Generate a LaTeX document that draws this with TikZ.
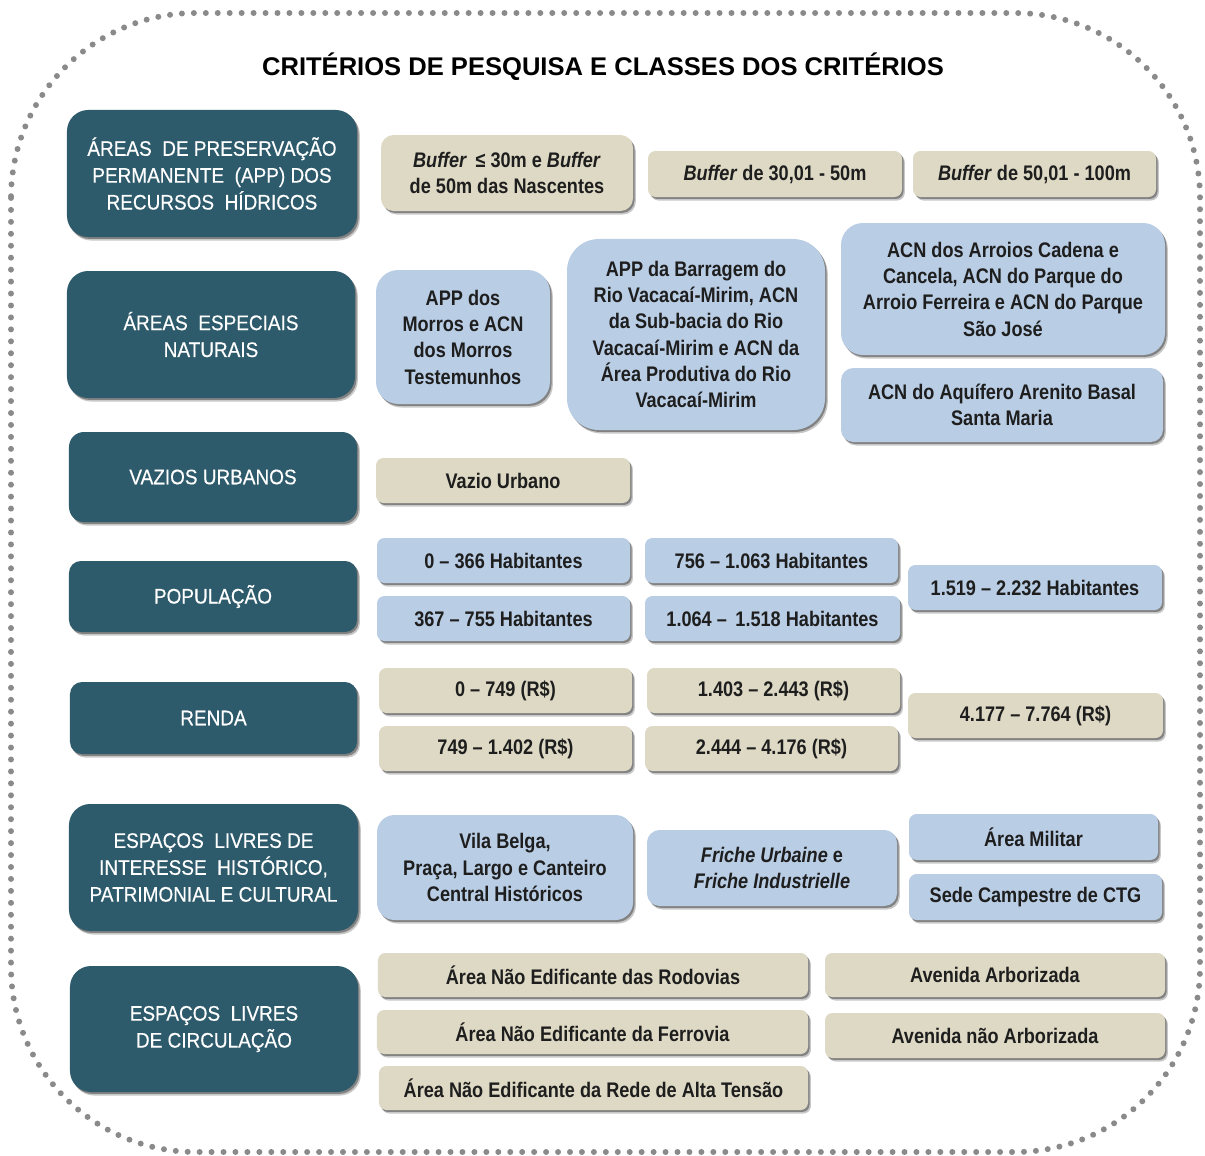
\documentclass[tikz,border=0pt]{standalone}
\usepackage{fontspec}
\setmainfont{Liberation Sans}
\newfontfamily\narrowfont[FakeStretch=0.86]{Liberation Sans}
\newfontfamily\hdrfont[FakeStretch=0.90, FakeBold=0.4]{Liberation Sans}
\usetikzlibrary{shadows}

\definecolor{hdrcol}{HTML}{2D5B6B}
\definecolor{tancol}{HTML}{DDD9C4}
\definecolor{skycol}{HTML}{B9CDE5}
\definecolor{txtcol}{HTML}{1E1E1E}
\definecolor{dotcol}{HTML}{8A8A8A}

\tikzset{
  cellbase/.style={inner sep=1pt, align=center,
    drop shadow={shadow xshift=1.6pt, shadow yshift=-2.0pt, opacity=0.22, fill=black},
    drop shadow={shadow xshift=0.9pt, shadow yshift=-1.1pt, opacity=0.35, fill=black}},
  hdr/.style={cellbase, fill=hdrcol, text=white,
    font=\hdrfont\fontsize{12}{15.3}\selectfont},
  tan/.style={cellbase, fill=tancol, text=txtcol,
    font=\narrowfont\bfseries\fontsize{12}{15}\selectfont},
  sky/.style={cellbase, fill=skycol, text=txtcol,
    font=\narrowfont\bfseries\fontsize{12}{15}\selectfont},
  frame/.style={draw=dotcol, line width=3.4pt, line cap=round,
    dash pattern=on 0pt off 6.8pt, rounded corners=3.7cm}
}

% \cell{name}{style}{x0}{y0}{x1}{y1}{text}: a rounded box spanning the given pixel corners
\newcommand\cell[7]{%
  \pgfmathsetmacro\cellw{(#5-#3)*0.02}%
  \pgfmathsetmacro\cellh{(#6-#4)*0.02}%
  \pgfmathsetmacro\cellr{min(#5-#3,#6-#4)*0.1667*0.02}%
  \node[#2, minimum width=\cellw cm, minimum height=\cellh cm,
        rounded corners=\cellr cm] (#1) at ({(#3+#5)/2},{(#4+#6)/2}) {#7};%
}

\begin{document}
\begin{tikzpicture}[x=0.02cm, y=-0.02cm]
\useasboundingbox (0,0) rectangle (1205,1156);

% dotted outer frame
\draw[frame] (11,13) rectangle (1200,1152);

% title
\node (title) at (603,67) {\fontsize{14.55}{17}\selectfont\bfseries CRITÉRIOS DE PESQUISA E CLASSES DOS CRITÉRIOS};

% criteria (left column)
\cell{h1}{hdr}{67}{110}{357}{237}{ÁREAS\enspace DE PRESERVAÇÃO\\PERMANENTE\enspace (APP) DOS\\RECURSOS\enspace HÍDRICOS}
\cell{h2}{hdr}{67}{271}{355}{398}{ÁREAS\enspace ESPECIAIS\\NATURAIS}
\cell{h3}{hdr}{69}{432}{357}{522}{VAZIOS URBANOS}
\cell{h4}{hdr}{69}{561}{357}{632}{POPULAÇÃO}
\cell{h5}{hdr}{70}{682}{357}{754}{RENDA}
\cell{h6}{hdr}{69}{804}{358}{931}{ESPAÇOS\enspace LIVRES DE\\INTERESSE\enspace HISTÓRICO,\\PATRIMONIAL E CULTURAL}
\cell{h7}{hdr}{70}{966}{358}{1092}{ESPAÇOS\enspace LIVRES\\DE CIRCULAÇÃO}

% APP classes
\cell{a1}{tan}{381}{135}{633}{211}{\textit{Buffer} \,≤ 30m e \textit{Buffer}\\de 50m das Nascentes}
\cell{a2}{tan}{648}{151}{902}{197}{\textit{Buffer} de 30,01 - 50m}
\cell{a3}{tan}{913}{151}{1156}{197}{\textit{Buffer} de 50,01 - 100m}

% special natural areas
\cell{n1}{sky}{376}{270}{550}{404}{APP dos\\Morros e ACN\\dos Morros\\Testemunhos}
\cell{n2}{sky}{567}{239}{825}{430}{APP da Barragem do\\Rio Vacacaí-Mirim, ACN\\da Sub-bacia do Rio\\Vacacaí-Mirim e ACN da\\Área Produtiva do Rio\\Vacacaí-Mirim}
\cell{n3}{sky}{841}{223}{1165}{355}{ACN dos Arroios Cadena e\\Cancela, ACN do Parque do\\Arroio Ferreira e ACN do Parque\\São José}
\cell{n4}{sky}{841}{368}{1163}{442}{ACN do Aquífero Arenito Basal\\Santa Maria}

% urban voids
\cell{v1}{tan}{376}{458}{630}{503}{Vazio Urbano}

% population
\cell{p1}{sky}{377}{538}{630}{583}{0 – 366 Habitantes}
\cell{p2}{sky}{645}{538}{898}{583}{756 – 1.063 Habitantes}
\cell{p3}{sky}{377}{596}{630}{641}{367 – 755 Habitantes}
\cell{p4}{sky}{645}{596}{900}{641}{1.064 –\, 1.518 Habitantes}
\cell{p5}{sky}{908}{565}{1162}{610}{1.519 – 2.232 Habitantes}

% income
\cell{r1}{tan}{379}{668}{632}{713}{0 – 749 (R\$)}
\cell{r2}{tan}{647}{668}{900}{713}{1.403 – 2.443 (R\$)}
\cell{r3}{tan}{379}{726}{632}{771}{749 – 1.402 (R\$)}
\cell{r4}{tan}{645}{726}{898}{771}{2.444 – 4.176 (R\$)}
\cell{r5}{tan}{908}{693}{1163}{738}{4.177 – 7.764 (R\$)}

% historic, heritage and cultural open spaces
\cell{e1}{sky}{377}{815}{633}{920}{Vila Belga,\\Praça, Largo e Canteiro\\Central Históricos}
\cell{e2}{sky}{647}{830}{897}{906}{\textit{Friche Urbaine} e\\\textit{Friche Industrielle}}
\cell{e3}{sky}{909}{814}{1158}{860}{Área Militar}
\cell{e4}{sky}{909}{874}{1162}{920}{Sede Campestre de CTG}

% circulation open spaces
\cell{c1}{tan}{378}{953}{808}{997}{Área Não Edificante das Rodovias}
\cell{c2}{tan}{377}{1010}{808}{1054}{Área Não Edificante da Ferrovia}
\cell{c3}{tan}{379}{1066}{808}{1110}{Área Não Edificante da Rede de Alta Tensão}
\cell{c4}{tan}{825}{953}{1165}{997}{Avenida Arborizada}
\cell{c5}{tan}{825}{1013}{1165}{1058}{Avenida não Arborizada}
\end{tikzpicture}
\end{document}
